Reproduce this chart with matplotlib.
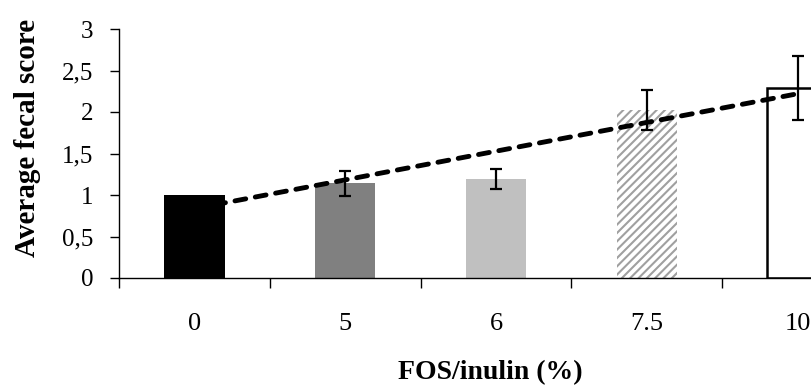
import numpy as np
import matplotlib.pyplot as plt

# data
doses = ['0', '5', '6', '7.5', '10']
scores = [1.0, 1.14, 1.19, 2.02, 2.29]
errors = [0.0, 0.15, 0.12, 0.24, 0.39]
fills = ['black', '#808080', '#c0c0c0', 'white', 'white']
edges = ['black', '#808080', '#c0c0c0', '#a0a0a0', 'black']
widths = [0, 0, 0, 0, 1.8]
hatches = ['', '', '', '////', '']

plt.rcParams['font.family'] = 'serif'
plt.rcParams['font.serif'] = ['Liberation Serif', 'DejaVu Serif']
plt.rcParams['hatch.linewidth'] = 1.5

fig = plt.figure(figsize=(8.12, 3.9), dpi=100)
# the original is cropped on the right, so the axes run past the figure edge
ax = fig.add_axes([119 / 812, 112 / 390, 754 / 812, 249 / 390])

x = np.arange(len(doses))
for i in range(len(doses)):
    ax.bar(x[i], scores[i], width=0.4, color=fills[i], edgecolor=edges[i],
           hatch=hatches[i], linewidth=widths[i], zorder=2)

# error bars (first bar has none)
ax.errorbar(x[1:], scores[1:], yerr=errors[1:], fmt='none', ecolor='black',
            elinewidth=1.6, capsize=4.3, capthick=1.6, zorder=4)

# linear trend line through the means
k, b = np.polyfit(x, scores, 1)
xt = np.array([x[0], x[-1]])
ax.plot(xt, k * xt + b, color='black', lw=3.5, dashes=(2.25, 2.0),
        dash_capstyle='round', zorder=3)

ax.set_xlim(-0.5, 4.5)
ax.set_ylim(0, 3)
ax.set_yticks([0, 0.5, 1, 1.5, 2, 2.5, 3])
ax.set_yticklabels(['0', '0,5', '1', '1,5', '2', '2,5', '3'])
ax.set_xticks(x)
ax.set_xticklabels(doses)
ax.set_xticks(np.arange(-0.5, 5, 1), minor=True)
ax.tick_params(axis='x', which='major', length=0, pad=25, labelsize=19)
ax.tick_params(axis='x', which='minor', length=7, width=1, direction='out')
ax.tick_params(axis='y', length=6.5, width=1, direction='out', pad=12, labelsize=18)

for s in ['top', 'right']:
    ax.spines[s].set_visible(False)
for s in ['left', 'bottom']:
    ax.spines[s].set_linewidth(1)

ax.set_ylabel('Average fecal score', fontsize=21, fontweight='bold')
ax.yaxis.set_label_coords(-0.103, 0.562)
ax.set_xlabel('FOS/inulin (%)', fontsize=20, fontweight='bold')
ax.xaxis.set_label_coords(0.492, -0.33)

fig.savefig('out.png', dpi=100)
